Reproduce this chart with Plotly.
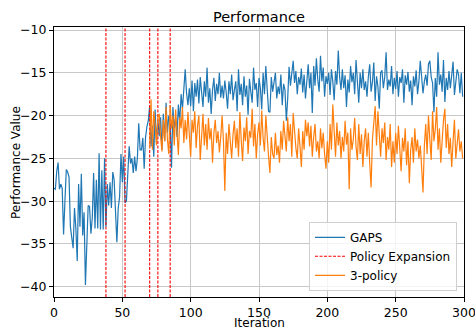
import plotly.graph_objects as go

gaps_values = [
    -28.5, -28.6, -26.5, -25.5, -28.6, -28.0, -28.5, -33.9, -30.0, -26.3,
    -26.6, -27.2, -33.0, -34.0, -35.5, -30.8, -33.2, -37.0, -28.0, -33.0,
    -26.8, -34.0, -31.3, -39.8, -33.5, -30.5, -30.6, -33.8, -32.0, -26.7,
    -33.2, -27.5, -33.2, -24.4, -33.3, -26.4, -33.3, -25.0, -33.0, -28.0,
    -30.5, -27.8, -30.8, -26.6, -27.5, -30.5, -34.8, -30.8, -29.5, -24.5,
    -27.8, -24.8, -30.2, -30.0, -27.0, -23.6, -25.6, -25.0, -26.7, -24.8,
    -26.5, -25.0, -20.9, -24.0, -24.0, -22.6, -26.2, -22.5, -21.3, -20.6,
    -18.9, -23.6, -21.2, -24.8, -19.3, -23.2, -20.5, -22.4, -20.2, -24.0,
    -19.8, -23.0, -18.5, -22.0, -20.0, -21.0, -26.1, -19.0, -21.5, -20.3,
    -22.5, -18.7, -20.8, -17.5, -19.2, -16.5, -14.6, -17.4, -18.8, -16.8,
    -18.9, -15.9, -19.5, -16.2, -17.8, -15.8, -18.6, -15.5, -17.2, -19.0,
    -16.0, -17.8, -14.4, -18.5, -16.8, -19.8, -17.0, -15.6, -18.3, -16.3,
    -17.5, -15.0, -17.9, -16.5, -18.0, -15.9, -17.3, -19.2, -16.0, -17.5,
    -15.2, -18.2, -17.0, -16.0, -19.5, -14.6, -17.6, -16.3, -18.8, -15.4,
    -17.8, -16.5, -19.9, -15.7, -17.2, -18.5, -14.4, -17.0, -16.2, -19.0,
    -15.6, -16.8, -19.3, -15.0, -17.5, -14.2, -16.9, -19.5, -19.6, -15.5,
    -17.2, -16.0, -15.0, -18.0, -16.6, -17.5, -15.2, -18.8, -16.3, -17.0,
    -20.6, -18.0, -14.3, -16.5, -15.0, -13.6, -16.2, -14.8, -17.5, -15.5,
    -16.4, -14.5, -17.3, -15.2, -18.0, -16.2, -14.0, -16.8, -15.0, -19.7,
    -14.2, -16.5, -13.3, -15.8, -17.2, -13.0, -16.0, -14.4, -17.8, -15.4,
    -16.3, -15.0, -17.6, -14.6, -16.0, -18.2, -14.8, -16.4, -12.4, -15.5,
    -17.0, -14.6, -16.8, -15.3, -19.0, -15.8, -17.3, -14.2, -16.1, -15.0,
    -17.5, -13.5, -16.2, -18.5, -15.0, -16.8, -14.6, -17.0, -16.0, -17.8,
    -15.5, -14.0, -17.2, -16.1, -13.8, -18.3, -15.4, -16.6, -19.2, -15.0,
    -14.7, -16.8, -15.5, -12.6, -17.0, -15.8, -16.6, -14.2, -17.5, -15.6,
    -16.9, -14.8, -17.8, -15.5, -16.2, -14.6, -18.5, -15.3, -16.4, -14.9,
    -17.2, -15.9, -18.8, -15.4, -16.6, -14.7, -17.5, -16.0, -13.6, -15.8,
    -17.4, -16.0, -15.2, -16.5, -14.0, -13.6, -15.5, -16.2, -19.6, -15.6,
    -17.8, -12.6, -16.4, -15.2, -17.2, -13.5, -18.4, -15.6, -17.0, -14.8,
    -16.8, -15.3, -13.7, -17.6, -16.0, -14.6, -15.2, -17.4, -15.0, -17.8,
]
gaps_iters = list(range(len(gaps_values)))

policy3_start = 70
policy3_values = [
    -23.8, -18.1, -24.0, -19.5, -21.0, -23.5, -20.2, -19.8, -22.5, -24.2,
    -20.5, -23.0, -19.0, -22.8, -24.5, -18.8, -21.5, -20.0, -23.5, -19.3,
    -22.0, -24.6, -20.2, -21.5, -19.0, -23.2, -20.5, -22.8, -19.6, -21.8,
    -24.8, -20.5, -22.0, -19.5, -23.8, -21.2, -20.0, -25.2, -22.5, -19.8,
    -23.5, -21.0, -24.0, -20.3, -22.8, -21.5, -25.5, -22.0, -20.5, -23.2,
    -21.8, -24.3, -22.5, -20.0, -23.0, -28.8, -22.0, -24.5, -21.0, -23.5,
    -25.0, -22.2, -20.6, -23.8, -21.5, -24.8, -19.6, -22.9, -25.3, -21.4,
    -23.0, -20.2, -24.5, -21.8, -22.6, -19.2, -23.6, -21.0, -25.0, -22.2,
    -20.8, -23.5, -19.4, -22.6, -24.2, -20.0, -23.0, -24.8, -26.7, -22.5,
    -24.5, -25.0, -22.0, -24.6, -23.5, -25.5, -21.8, -24.0, -20.6, -22.8,
    -24.2, -20.2, -23.0, -21.0, -24.8, -19.7, -22.5, -23.8, -25.0, -21.5,
    -23.6, -26.0, -21.8, -24.0, -20.5, -22.4, -20.8, -23.6, -21.2, -24.8,
    -22.5, -21.0, -24.2, -23.0, -25.0, -21.5, -23.8, -22.0, -24.5, -26.2,
    -23.0, -25.5, -21.0, -24.0, -18.7, -22.5, -24.8, -20.8, -23.5, -21.8,
    -25.0, -22.5, -24.2, -20.6, -23.4, -22.0, -28.6, -21.5, -24.0, -22.8,
    -20.3, -23.6, -25.2, -21.0, -24.5, -22.2, -26.0, -23.0, -21.5, -24.8,
    -22.0, -25.5, -28.4, -22.8, -21.0, -18.9, -23.5, -19.5, -22.2, -24.8,
    -21.5, -23.2, -20.8, -25.2, -22.5, -24.0, -21.0, -26.0, -23.0, -25.5,
    -22.0, -24.5, -21.2, -23.8, -26.5, -22.6, -24.2, -21.5, -25.8, -23.0,
    -27.9, -24.0, -22.5, -25.5, -21.5, -24.2, -22.8, -25.0, -23.5, -26.0,
    -29.0, -23.5, -21.0, -24.5, -20.0, -22.8, -25.2, -19.5, -23.0, -21.6,
    -19.0, -24.0, -21.5, -25.5, -22.5, -20.5, -19.2, -23.8, -21.0, -24.5,
    -22.6, -26.0, -23.0, -20.5, -25.0, -22.8, -21.6, -24.2, -23.0, -25.0,
]
policy3_iters = list(range(policy3_start, policy3_start + len(policy3_values)))

expansion_iters = [38, 52, 70, 76, 85]

x_range = [0, 300]
y_range = [-41.2, -9.65]
y_ticks = [-40, -35, -30, -25, -20, -15, -10]
x_ticks = [0, 50, 100, 150, 200, 250, 300]

vx, vy = [], []
for it in expansion_iters:
    vx += [it, it, None]
    vy += [y_range[0], y_range[1], None]

fig = go.Figure()
fig.add_trace(go.Scatter(x=gaps_iters, y=gaps_values, mode="lines", name="GAPS",
                         line=dict(color="#1f77b4", width=1.2)))
fig.add_trace(go.Scatter(x=vx, y=vy, mode="lines", name="Policy Expansion",
                         line=dict(color="#ff0000", width=1.1, dash="3px,1.5px")))
fig.add_trace(go.Scatter(x=policy3_iters, y=policy3_values, mode="lines", name="3-policy",
                         line=dict(color="#ff7f0e", width=1.2)))

axis_common = dict(showline=True, linecolor="black", linewidth=1, mirror=True,
                   ticks="outside", ticklen=4, tickcolor="black", tickwidth=1,
                   showgrid=True, gridcolor="#c8c8c8", gridwidth=1.1, zeroline=False,
                   automargin=False, ticklabeloverflow="allow",
                   tickfont=dict(family="DejaVu Sans", size=12.5, color="black"))

title_font = dict(family="DejaVu Sans", size=12, color="black")

fig.update_layout(
    width=475, height=331,
    margin=dict(l=54, r=11, t=27, b=34),
    plot_bgcolor="white", paper_bgcolor="white",
    title=dict(text="Performance", x=0.545, xanchor="center", y=0.948, yanchor="middle",
               font=dict(family="DejaVu Sans", size=14.5, color="black")),
    xaxis=dict(range=x_range, tickvals=x_ticks, **axis_common),
    yaxis=dict(range=y_range, tickvals=y_ticks, **axis_common),
    legend=dict(x=0.983, y=0.023, xanchor="right", yanchor="bottom",
                bgcolor="rgba(255,255,255,0.8)", bordercolor="#d0d0d0", borderwidth=1,
                font=dict(family="DejaVu Sans", size=12, color="black"),
                itemwidth=30, tracegroupgap=0),
    showlegend=True,
    annotations=[
        dict(text="Iteration", xref="paper", yref="paper", x=0.5, y=-0.097,
             xanchor="center", yanchor="middle", showarrow=False, font=title_font),
        dict(text="Performance Value", xref="paper", yref="paper", x=-0.0927, y=0.5,
             xanchor="center", yanchor="middle", textangle=-90, showarrow=False, font=title_font),
    ],
)

fig.write_html("out.html")
